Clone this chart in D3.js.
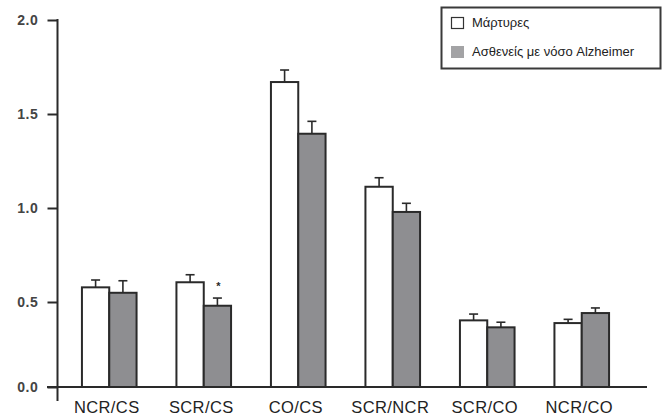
<!DOCTYPE html>
<html>
<head>
<meta charset="utf-8">
<script src="https://cdn.jsdelivr.net/npm/d3@7"></script>
<style>
  html, body { margin: 0; padding: 0; background: #fff; }
  svg { display: block; font-family: "Liberation Sans", Arial, Helvetica, sans-serif; }
</style>
</head>
<body>
<svg id="chart" width="665" height="416"></svg>
<script>
// Ratios per brain-region pair: controls vs. Alzheimer's patients (mean + SEM)
const categories = ["NCR/CS", "SCR/CS", "CO/CS", "SCR/NCR", "SCR/CO", "NCR/CO"];
const controlMeans  = [0.578, 0.605, 1.670, 1.113, 0.392, 0.376];
const controlErrors = [0.039, 0.040, 0.064, 0.048, 0.037, 0.022];
const adMeans       = [0.549, 0.478, 1.395, 0.979, 0.351, 0.435];
const adErrors      = [0.064, 0.043, 0.066, 0.046, 0.030, 0.030];
const significant   = [false, true, false, false, false, false];
const seriesNames   = ["Μάρτυρες", "Ασθενείς με νόσο Alzheimer"];
const seriesKeys    = ["control", "ad"];
const yTicks        = [0, 0.5, 1.0, 1.5, 2.0];

const rows = categories.map((c, i) => ({
  category: c,
  values: [
    { key: "control", mean: controlMeans[i], err: controlErrors[i] },
    { key: "ad", mean: adMeans[i], err: adErrors[i] }
  ],
  sig: significant[i]
}));

const svg = d3.select("#chart");
const ink = "#2a2a2a";
const fills = { control: "#ffffff", ad: "#8e8e91" };

// Value axis (the zero baseline sits slightly above the regular 0.5 spacing)
const y = d3.scaleLinear().domain([0, 0.5, 2]).range([387, 302, 20]);

const x = d3.scaleBand().domain(categories).range([62, 629])
  .paddingInner(0.422).paddingOuter(0.211);
const xs = d3.scaleBand().domain(seriesKeys).range([0, x.bandwidth()]);

// Bars
const groups = svg.append("g").selectAll("g").data(rows).join("g")
  .attr("transform", d => `translate(${x(d.category)},0)`);

groups.selectAll("rect").data(d => d.values).join("rect")
  .attr("x", d => xs(d.key))
  .attr("y", d => y(d.mean))
  .attr("width", xs.bandwidth())
  .attr("height", d => y(0) - y(d.mean))
  .attr("fill", d => fills[d.key])
  .attr("stroke", ink)
  .attr("stroke-width", 2);

// Upper error bars
const eb = groups.selectAll("g.err").data(d => d.values).join("g").attr("class", "err")
  .attr("stroke", ink).attr("stroke-width", 1.6);
eb.append("line")
  .attr("x1", d => xs(d.key) + xs.bandwidth() / 2)
  .attr("x2", d => xs(d.key) + xs.bandwidth() / 2)
  .attr("y1", d => y(d.mean))
  .attr("y2", d => y(d.mean + d.err));
eb.append("line")
  .attr("x1", d => xs(d.key) + xs.bandwidth() / 2 - 4.5)
  .attr("x2", d => xs(d.key) + xs.bandwidth() / 2 + 4.5)
  .attr("y1", d => y(d.mean + d.err))
  .attr("y2", d => y(d.mean + d.err));

// Significance marker
groups.filter(d => d.sig).append("text")
  .attr("x", xs("ad") + xs.bandwidth() / 2 + 1)
  .attr("y", d => y(d.values[1].mean + d.values[1].err) - 8)
  .attr("text-anchor", "middle")
  .attr("font-size", 11)
  .attr("font-weight", "bold")
  .attr("fill", ink)
  .text("*");

// Y axis
const yAxis = svg.append("g").attr("transform", "translate(57.5,0)")
  .call(d3.axisLeft(y).tickValues(yTicks).tickFormat(d3.format(".1f"))
    .tickSize(10).tickPadding(9));
yAxis.select(".domain").remove();
yAxis.selectAll(".tick line").attr("stroke", ink).attr("stroke-width", 2);
yAxis.selectAll(".tick text")
  .attr("font-size", 14).attr("font-weight", "bold")
  .attr("letter-spacing", "0.6px")
  .attr("fill", "#444")
  .attr("font-family", "'Liberation Sans', Arial, sans-serif");
yAxis.append("line").attr("x1", 0).attr("x2", 0).attr("y1", 19).attr("y2", 401)
  .attr("stroke", ink).attr("stroke-width", 2);

// X axis
svg.append("line").attr("x1", 47).attr("x2", 647).attr("y1", y(0)).attr("y2", y(0))
  .attr("stroke", ink).attr("stroke-width", 2);
const xAxis = svg.append("g").attr("transform", `translate(-2.5,${y(0)})`)
  .call(d3.axisBottom(x).tickSize(0).tickPadding(14));
xAxis.select(".domain").remove();
xAxis.selectAll(".tick text")
  .attr("font-size", 16.5)
  .attr("letter-spacing", "0.4px")
  .attr("fill", "#222")
  .attr("font-family", "'Liberation Sans', Arial, sans-serif");

// Legend
const legend = svg.append("g");
legend.append("rect").attr("x", 441.5).attr("y", 7.5).attr("width", 219).attr("height", 61)
  .attr("fill", "#fff").attr("stroke", "#3a3a3a").attr("stroke-width", 2);
const li = legend.selectAll("g.item").data(seriesKeys).join("g").attr("class", "item")
  .attr("transform", (d, i) => `translate(451,${17 + i * 29})`);
li.append("rect")
  .attr("x", d => d === "control" ? 0.5 : 0)
  .attr("y", d => d === "control" ? 0.5 : 0)
  .attr("width", d => d === "control" ? 12 : 13)
  .attr("height", d => d === "control" ? 11 : 12)
  .attr("fill", d => d === "control" ? "#fff" : "#a3a3a5")
  .attr("stroke", d => d === "control" ? "#333" : "none")
  .attr("stroke-width", 1.2);
li.append("text")
  .attr("x", 21).attr("y", 10)
  .attr("font-size", 13)
  .attr("fill", "#222")
  .text((d, i) => seriesNames[i]);
</script>
</body>
</html>
